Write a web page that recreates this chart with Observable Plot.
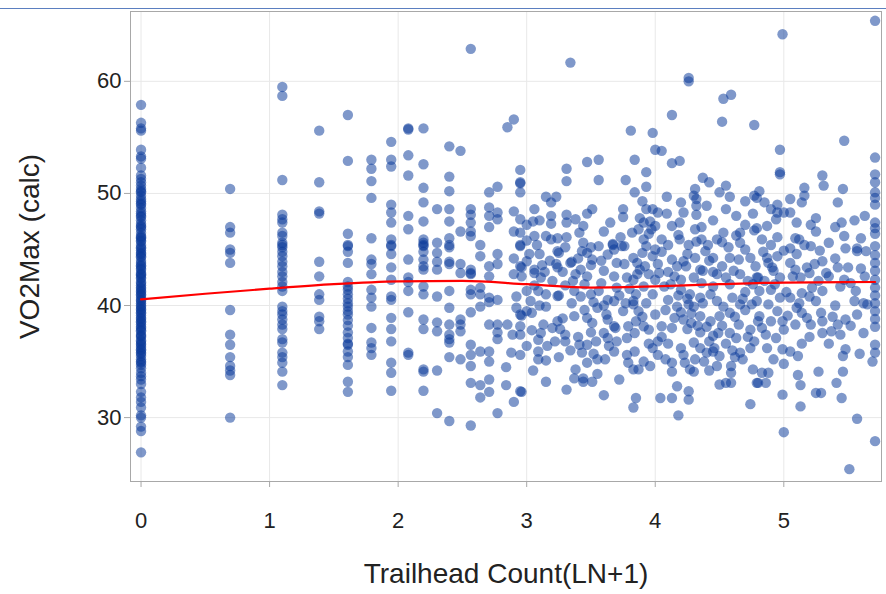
<!DOCTYPE html>
<html><head><meta charset="utf-8">
<script src="https://cdn.jsdelivr.net/npm/d3@7"></script>
<script src="https://cdn.jsdelivr.net/npm/@observablehq/plot@0.6"></script>
<style>
body{margin:0;background:#fff;font-family:"Liberation Sans",Arial,sans-serif}
#wrap{position:relative;width:886px;height:594px}
#topline{position:absolute;left:0;top:8px;width:886px;height:0;border-top:1px solid #5b7fc0}
</style>
</head><body><div id="wrap"><div id="chart"></div><div id="topline"></div></div>
<script>
// discrete x columns (ln(k))
const colX = [0, 0.693, 1.099, 1.386, 1.609, 1.792, 1.946, 2.079, 2.197, 2.303, 2.398, 2.485, 2.565, 2.639, 2.708, 2.773];
const colY = [
  [57.9,56.3,55.8,55.6,53.9,53.3,53.1,52.3,51.6,51.3,51.0,50.7,50.4,50.1,49.8,49.5,49.3,49.0,48.7,48.4,48.2,47.9,47.6,47.3,47.1,46.8,46.5,46.2,46.0,45.7,45.4,45.1,44.9,44.6,44.3,44.0,43.8,43.5,43.2,42.9,42.7,42.4,42.1,41.8,41.6,41.3,41.0,40.7,40.5,40.2,39.9,39.6,39.4,39.1,38.8,38.5,38.3,38.0,37.7,37.4,37.2,36.9,36.6,36.3,36.1,35.8,35.5,35.2,35.0,34.7,34.4,34.0,33.7,33.4,33.0,32.3,31.8,31.4,30.9,30.2,30.0,29.2,28.8,26.9,
   50.2,49.1,48.0,47.0,46.1,45.2,44.4,43.6,42.8,42.0,41.2,40.4,39.7,38.9,38.1,37.3,36.5,35.7,34.9,
   45.8,44.7,43.3,42.5,41.5,40.9,40.0,39.3,38.6,37.8,36.8,36.0],
  [50.4,47.0,46.5,45.0,44.7,43.8,39.6,37.4,36.5,35.4,34.6,34.2,33.8,30.0],
  [59.5,58.7,51.2,48.1,47.7,47.4,46.5,46.2,45.6,45.2,45.4,44.8,44.4,43.9,43.5,43.0,42.6,42.1,41.7,41.3,39.9,39.5,39.2,38.75,38.3,37.9,37.0,36.7,35.8,35.4,34.9,34.1,32.9],
  [55.6,51.0,48.4,48.2,43.9,42.6,41.0,40.5,39.0,38.6,37.9],
  [57.0,52.9,46.4,45.3,45.4,44.8,43.8,42.1,41.7,41.4,41.0,40.6,40.2,39.9,39.5,39.2,38.7,38.2,37.6,37.1,36.6,36.5,35.9,35.4,34.7,33.2,32.3],
  [53.0,52.2,51.1,49.6,46.0,44.1,43.7,42.8,41.4,40.7,39.9,38.0,36.7,36.2,35.6],
  [54.6,53.0,52.4,49.0,48.3,47.4,45.9,45.3,45.4,44.6,43.4,42.3,40.8,40.5,38.9,37.9,36.8,34.9,34.0,32.4],
  [55.8,55.7,53.4,51.6,48.0,46.8,44.1,42.5,42.1,41.3,39.4,35.8,35.6],
  [55.8,52.6,50.5,49.2,47.5,45.9,45.6,45.3,45.4,44.8,44.1,43.5,43.2,41.7,41.0,38.75,37.9,34.3,34.1,32.4],
  [48.6,45.6,44.7,43.9,43.2,40.8,38.5,37.7,34.2,30.4],
  [54.2,51.5,50.2,48.6,47.5,46.0,45.4,45.2,43.9,43.7,41.3,39.8,38.3,37.4,37.0,36.7,35.4,29.7],
  [53.8,46.6,43.7,42.9,38.75,38.3,37.7,35.2],
  [62.9,48.6,48.1,47.4,46.6,46.2,43.2,42.9,42.8,41.4,41.0,39.4,36.5,35.6,34.6,33.1,29.3],
  [45.4,44.4,41.6,41.0,39.9,35.9,32.9,31.8],
  [50.1,48.75,48.0,47.0,43.5,42.6,40.7,40.3,38.3,35.9,35.0,33.4,32.3],
  [50.6,48.3,47.7,44.6,43.7,40.5,38.3,37.6,37.0,30.4]
];
// dense region (x > 2.8), [x, y]
const densePts = [
 [2.84,34.5],[2.84,32.9],
 [3.34,61.67],[2.90,56.6],[2.85,55.9],[3.81,55.6],[3.47,52.8],[3.56,53.0],[3.31,52.2],[2.95,52.1],[2.95,51.0],[2.95,50.9],[3.31,51.1],[3.56,51.2],[3.77,51.2],[3.84,53.0],[2.95,50.1],[3.84,50.1],[3.15,49.7],[3.23,49.7],[3.19,49.2],[2.90,48.4],[2.95,47.7],[3.06,48.6],[3.05,47.5],[3.10,47.6],[3.19,48.0],[3.19,47.3],[3.31,48.1],[3.31,47.4],[3.38,47.7],[3.47,48.2],[3.51,48.6],[3.44,47.1],[3.41,46.5],[3.75,48.6],[3.75,47.9],[2.90,46.6],[2.95,46.5],[3.06,46.2],[3.15,46.2],[3.19,45.9],[3.24,46.0],[3.31,46.1],[3.73,46.1],[2.95,45.4],[3.50,45.2],[3.56,45.3],[3.67,45.4],[3.67,45.5],[3.76,45.3],[3.82,46.5],
 [2.95,45.3],[3.24,44.85],[3.25,44.7],[3.34,43.8],[3.35,43.9],[3.43,44.85],[3.47,44.7],[3.51,44.1],[3.63,44.55],[3.68,45.0],[3.74,45.3],[3.76,43.7],[2.95,43.5],[2.96,43.4],[3.00,43.95],[3.06,43.2],[2.90,42.8],[2.96,42.6],[3.11,42.5],[3.06,42.9],[3.24,43.4],[3.23,43.7],[3.38,42.8],[3.42,43.2],[3.47,42.6],[3.60,43.1],[3.68,42.6],[3.78,42.5],[3.00,41.3],[3.09,41.3],[3.24,40.85],[3.25,40.9],[3.37,41.3],[3.42,40.8],[3.50,41.0],[3.56,41.3],[3.63,40.5],[3.68,40.4],[3.77,40.2],[3.83,40.4],[3.03,40.4],[3.15,39.9],[3.00,39.5],[2.95,39.2],[2.96,39.1],[3.04,39.35],[2.85,38.3],[2.95,38.15],[2.95,37.4],[2.89,37.4],[3.11,37.55],[3.13,38.3],[3.24,38.6],[3.28,38.85],[3.37,39.05],[3.47,38.9],[3.51,38.45],[3.63,38.75],[3.68,38.15],[3.69,38.0],[3.60,37.55],[3.63,37.1],[3.79,38.15],[3.78,37.1],[3.00,36.4],[2.95,35.6],[3.09,36.95],[3.09,35.9],[3.22,36.8],[3.30,36.8],[3.34,36.0],[3.41,36.5],[3.47,36.5],[3.43,35.8],[3.54,36.8],[3.47,34.9],[3.55,35.2],[3.61,35.2],[3.68,35.9],[3.09,35.2],[3.15,35.1],[3.38,34.3],[3.37,33.5],[3.44,33.5],[3.44,33.2],[3.51,33.2],[3.79,34.9],[3.83,34.3],[3.15,33.2],[2.95,32.35],[2.96,32.3],[2.90,31.4],[3.31,32.5],[3.60,32.0],[3.83,30.9],
 [4.26,60.3],[4.26,60.0],[4.53,58.45],[4.59,58.8],[4.13,57.0],[4.52,56.4],[4.77,56.1],[3.98,55.4],[4.00,53.9],[4.05,53.8],[4.13,52.7],[4.19,52.9],[3.93,51.9],[3.93,50.6],[4.37,51.4],[4.42,51.0],[4.55,50.7],[4.50,50.1],[4.58,49.7],[4.31,50.4],[4.30,49.8],[4.32,49.5],[4.09,49.7],[4.20,49.2],[4.22,48.3],[4.40,48.9],[4.70,49.3],[4.77,49.8],[4.81,50.2],[4.32,48.9],[4.32,48.1],[4.76,48.2],[4.63,48.0],[3.93,48.6],[3.98,48.6],[4.02,48.3],[3.88,47.8],[3.91,47.4],[3.96,47.5],[4.09,48.2],[4.19,47.4],[4.13,47.1],[4.00,47.1],[3.97,46.8],[3.87,46.8],[4.31,46.8],[4.36,47.0],[4.18,46.3],[4.19,45.9],[4.53,46.5],[4.66,46.5],[4.63,46.25],[4.77,46.7],[3.91,45.9],[3.93,45.3],[4.05,45.9],[4.10,45.4],[4.26,45.4],[4.32,45.7],[4.36,45.9],[4.41,45.4],[4.48,45.9],[4.52,45.65],[4.66,45.6],
 [3.83,44.25],[3.86,43.8],[3.98,44.4],[4.02,43.7],[4.13,44.1],[4.22,43.95],[4.17,43.5],[4.24,43.5],[4.31,44.25],[4.35,43.2],[4.39,44.85],[4.45,44.25],[4.52,43.5],[4.58,44.25],[4.65,44.1],[4.74,44.25],[4.61,43.1],[4.66,42.8],[4.48,42.8],[4.37,43.1],[3.83,42.3],[3.91,41.7],[4.00,42.3],[4.07,41.7],[4.20,42.3],[4.30,42.5],[4.36,42.0],[4.45,41.7],[4.58,41.9],[4.76,41.9],[4.80,42.5],[3.85,41.0],[3.98,41.0],[3.93,40.2],[3.83,40.1],[3.87,39.5],[4.17,39.9],[4.26,40.1],[4.30,39.9],[4.37,40.2],[4.48,40.4],[4.53,39.9],[4.66,40.1],[4.75,40.1],[4.27,41.0],[4.35,40.7],[4.43,41.0],[3.85,38.6],[3.91,38.15],[3.84,37.55],[3.95,37.85],[4.05,38.15],[4.13,38.0],[4.15,38.9],[4.22,38.75],[4.28,38.45],[4.35,39.05],[4.43,38.6],[4.50,39.05],[4.58,39.35],[4.45,37.3],[4.49,37.55],[4.58,37.55],[4.63,37.1],[4.74,37.85],[4.80,38.6],[3.98,36.2],[4.02,36.8],[3.84,35.9],[3.91,35.0],[3.87,34.3],[4.30,36.7],[4.35,36.2],[4.31,35.2],[4.23,34.9],[4.13,34.9],[4.13,34.1],[4.27,34.3],[4.30,34.1],[4.46,36.2],[4.45,35.9],[4.48,34.6],[4.59,34.6],[4.59,34.0],[4.66,35.8],[4.68,35.2],[4.74,36.2],[4.76,34.3],[4.17,32.8],[4.26,32.35],[4.26,31.6],[4.04,31.75],[4.13,31.75],[4.18,30.2],[4.50,32.95],[4.55,33.1],[4.59,33.1],[4.80,33.1],[4.74,31.2],[3.85,31.75],
 [5.71,65.4],[4.99,64.2],[5.47,54.7],[4.97,53.9],[4.97,51.9],[4.97,51.7],[5.71,53.2],[5.30,51.6],[5.31,50.7],[5.71,51.7],[5.71,51.0],[5.71,50.1],[5.71,49.6],[5.71,49.0],[5.16,50.5],[5.16,49.8],[5.14,49.2],[5.46,50.4],[5.42,49.2],[4.79,49.6],[4.85,49.2],[4.90,48.6],[4.95,49.0],[4.95,48.3],[5.00,48.3],[5.05,49.5],[5.05,48.3],[4.94,47.7],[4.87,47.1],[4.79,46.9],[4.83,45.9],[5.25,47.8],[5.21,47.2],[5.45,47.4],[5.63,48.0],[5.71,47.4],[5.71,46.9],[5.71,46.4],[4.95,46.1],[5.09,46.0],[5.12,45.9],[5.16,45.4],[5.21,45.3],[5.48,45.1],[5.57,45.1],[5.71,45.3],
 [5.57,44.85],[5.64,44.85],[4.87,44.25],[4.95,44.4],[4.91,43.4],[4.92,43.1],[5.05,43.8],[5.09,43.2],[5.18,43.4],[5.24,43.7],[5.30,43.95],[5.20,42.9],[4.79,42.5],[4.85,42.2],[4.97,42.5],[5.07,42.6],[5.13,42.5],[5.27,42.2],[5.35,42.6],[5.47,42.3],[5.63,42.6],[5.71,43.1],[4.81,41.3],[4.90,41.4],[4.79,40.4],[4.88,40.1],[4.97,40.7],[5.05,40.7],[5.14,41.1],[5.20,40.8],[5.30,41.3],[5.44,41.7],[5.56,41.3],[5.71,42.3],[5.71,41.6],[5.71,40.9],[5.71,40.2],[5.71,39.5],[5.71,38.8],[5.71,38.1],[5.71,44.5],[5.71,43.8],
 [4.81,39.05],[4.90,38.6],[4.83,38.0],[4.99,38.6],[5.00,37.85],[5.09,38.3],[5.14,39.35],[5.21,38.3],[5.29,39.35],[5.30,38.6],[5.42,38.3],[5.48,38.75],[5.57,39.2],[5.62,40.2],[5.65,40.1],[5.30,37.55],[5.37,37.7],[5.44,37.4],[5.62,37.55],[4.94,37.1],[4.87,36.2],[4.99,36.1],[5.05,35.9],[5.11,35.5],[5.14,36.6],[5.48,36.1],[5.46,35.5],[5.59,35.7],[5.71,36.5],[5.71,35.8],[5.69,35.0],[4.83,34.0],[4.88,34.0],[4.79,33.1],[4.86,33.1],[5.11,33.8],[5.13,32.9],[5.27,34.1],[5.46,34.1],[5.41,33.1],[4.99,32.05],[5.13,31.0],[5.25,32.2],[5.29,32.2],[5.45,31.75],[5.00,28.7],[5.57,29.9],[5.71,27.9],[5.51,25.4],
 [4.05,44.8],[4.10,43.0],[4.15,42.6],[4.20,41.4],[4.25,40.6],[4.10,40.5],[4.00,39.2],[4.08,39.6],[4.20,39.4],[4.25,37.9],[4.35,37.6],[4.40,38.1],[4.05,37.2],[4.10,36.6],[4.20,36.2],[4.38,35.0],[4.42,34.2],[4.02,35.6],[3.95,36.6],[3.90,39.0],[3.95,42.8],[3.88,43.2],[3.90,44.7],[4.00,45.0],[4.45,43.0],[4.55,42.5],[4.60,40.7],[4.70,39.6],[4.70,41.2],[4.65,38.3],[4.55,36.6],[4.60,36.0],[4.72,37.2],[4.50,35.5],[3.55,39.8],[3.60,40.0],[3.45,39.6],[3.35,40.2],[3.30,41.8],[3.20,42.2],[3.15,41.0],[3.10,40.0],[3.20,38.0],[3.30,37.4],[3.50,37.6],[3.70,36.8],[3.75,39.5],[3.70,41.6],[3.58,42.0],[3.50,43.6],[3.40,44.2],[3.30,45.2],[3.10,44.6],[3.00,45.8],[3.12,43.6],[2.90,44.2],[2.92,40.8],[2.88,35.8],[3.05,34.2],[3.25,35.4],[3.55,33.9],[3.72,33.4],[3.00,47.2],[3.60,46.6],[3.65,47.4],[3.90,49.3],[4.45,47.6],[4.55,48.6],[4.70,47.2],[4.90,45.4],[5.00,44.9],[5.10,44.6],[5.35,45.6],[5.40,44.2],[5.50,43.4],[5.55,40.4],[5.40,40.0],[5.25,40.4],[5.10,39.8],[5.35,36.6],[5.20,37.2],[5.00,34.8],[4.92,35.2],[5.40,47.0],[5.55,47.6],[5.25,46.6],[5.10,47.4],
 [3.02,44.6],[3.08,45.4],[3.18,44.0],[3.28,43.0],[3.36,42.2],[3.45,41.9],[3.52,40.3],[3.62,39.2],[3.72,40.9],[3.80,41.5],[3.86,42.8],[3.92,43.5],[4.03,42.9],[4.12,41.9],[4.18,40.9],[4.28,39.3],[4.33,38.2],[4.42,36.8],[4.52,38.2],[4.62,39.0],[4.68,40.6],[4.72,42.2],[4.78,43.5],[4.84,44.8],[4.93,41.9],[5.02,41.2],[5.12,40.2],[5.22,41.6],[5.33,42.9],[5.42,43.4],[5.52,42.0],[5.60,43.3],[5.52,38.2],[5.38,39.0],[5.18,38.9],[5.03,39.1],[4.95,39.5],[4.86,37.4],[4.77,36.8],[4.62,35.4],[4.40,35.8],[4.22,35.6],[4.08,35.2],[3.96,34.6],[3.78,35.6],[3.64,36.4],[3.52,35.7],[3.40,37.2],[3.26,37.9],[3.16,36.4],[3.04,37.8],[2.92,39.8],[3.06,41.8],[3.14,43.0],[3.44,45.6],[3.58,44.0],[3.70,43.8],[3.95,46.4],[4.25,44.6],[4.42,44.0],[4.57,45.2],[4.70,45.0],[4.88,43.8],[5.05,45.1],[5.28,44.9],[5.47,46.2],[5.60,46.0]
];
// loess fit
const trendX = [0, 0.5, 1, 1.5, 2, 2.5, 3, 3.5, 4, 4.5, 5, 5.71];
const trendY = [40.55, 41.05, 41.5, 41.9, 42.15, 42.2, 41.9, 41.6, 41.7, 41.9, 42.05, 42.1];
const xTicks = [0, 1, 2, 3, 4, 5];
const yTicks = [30, 40, 50, 60];
const xLabel = "Trailhead Count(LN+1)";
const yLabel = "VO2Max (calc)";

const points = [];
colX.forEach((x, i) => colY[i].forEach(y => points.push({x, y})));
densePts.forEach(([x, y]) => points.push({x, y}));
const trend = trendX.map((x, i) => ({x, y: trendY[i]}));

const chart = Plot.plot({
  width: 886, height: 594,
  marginLeft: 130, marginRight: 5, marginTop: 11, marginBottom: 113,
  x: {domain: [-0.082, 5.76]},
  y: {domain: [24.3, 66.23]},
  style: {fontFamily: "'Liberation Sans', Arial, sans-serif", fontSize: "22px", color: "#222", background: "#fff"},
  marks: [
    Plot.gridX(xTicks, {stroke: "#e8e8e8", strokeOpacity: 1}),
    Plot.gridY(yTicks, {stroke: "#e8e8e8", strokeOpacity: 1}),
    Plot.dot(points, {x: "x", y: "y", r: 5.2, fill: "#0a3a9a", fillOpacity: 0.52, stroke: null}),
    Plot.line(trend, {x: "x", y: "y", stroke: "#ff0000", strokeWidth: 2.2, curve: "monotone-x"}),
    Plot.frame({stroke: "#a8a8a8"}),
    Plot.axisX(xTicks, {tickSize: 6, tickPadding: 25, fontSize: 22, label: null, stroke: "#a8a8a8", tickFormat: d3.format("d")}),
    Plot.axisY(yTicks, {tickSize: 6, tickPadding: 3, fontSize: 22, label: null, stroke: "#a8a8a8", tickFormat: d3.format("d")}),
    Plot.text([xLabel], {text: d => d, frameAnchor: "bottom", dy: 93, lineAnchor: "middle", textAnchor: "middle", fontSize: 28, fill: "#222"}),
    Plot.text([yLabel], {text: d => d, frameAnchor: "left", dx: -100, rotate: -90, textAnchor: "middle", lineAnchor: "middle", fontSize: 28, fill: "#222"})
  ]
});
document.getElementById("chart").appendChild(chart);
</script>
</body></html>
